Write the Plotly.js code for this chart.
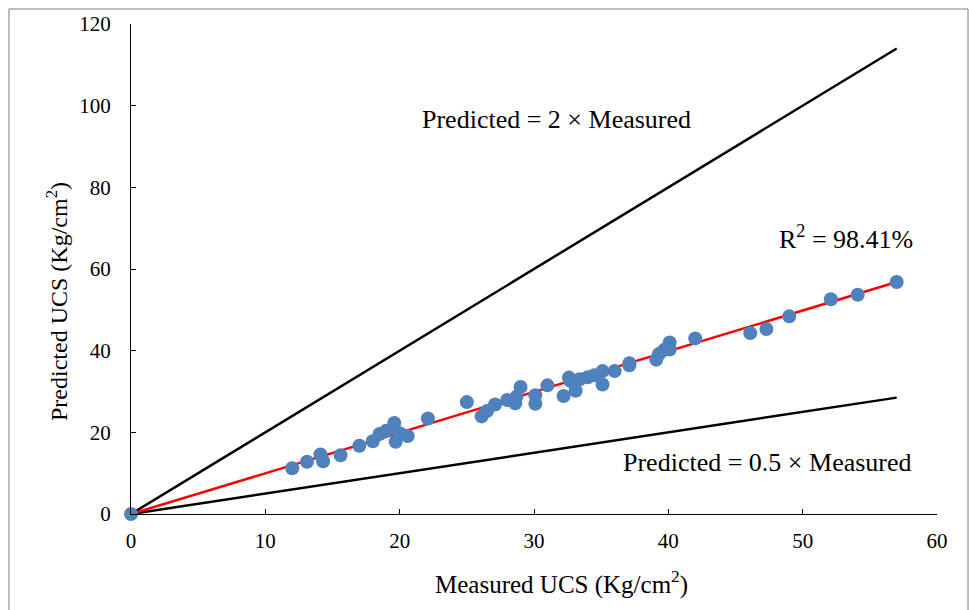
<!DOCTYPE html>
<html>
<head>
<meta charset="utf-8">
<script src="https://cdn.plot.ly/plotly-3.0.1.min.js"></script>
<style>html,body{margin:0;padding:0;background:#fff;}#chart{width:969px;height:610px;}</style>
</head>
<body>
<div id="chart"></div>
<script>
const measured = [0, 12, 13.1, 14.1, 14.3, 15.6, 17, 18, 18.5, 19, 19.6, 19.7, 20, 20.6, 22.1, 25, 26.1, 26.5, 27.1, 28, 28.6, 28.7, 29, 30.1, 30.1, 31, 32.2, 32.6, 32.7, 33.1, 33.4, 34, 34.5, 35.1, 35.1, 36, 37.1, 37.1, 39.1, 39.3, 39.7, 40.1, 40.1, 42, 46.1, 47.3, 49, 52.1, 54.1, 57];
const predicted = [0, 11.2, 12.8, 14.6, 12.9, 14.4, 16.7, 17.8, 19.6, 20.4, 22.3, 17.7, 19.8, 19.1, 23.4, 27.4, 23.9, 25.2, 26.8, 27.9, 27.1, 28.7, 31.1, 29.1, 27, 31.5, 28.9, 33.4, 32.6, 30.2, 33, 33.5, 34, 35, 31.7, 35, 36.4, 36.9, 37.8, 39.2, 40.2, 42, 40.3, 43, 44.3, 45.3, 48.4, 52.6, 53.7, 56.8];
const lineX = [0, 57];
const upperY = [0, 114];
const lowerY = [0, 28.5];
const fitY = [0, 56.8];
const xTicks = [0, 10, 20, 30, 40, 50, 60];
const yTicks = [0, 20, 40, 60, 80, 100, 120];

const font = 'Liberation Serif';
const traces = [
  {x: lineX, y: upperY, mode: 'lines', line: {color: '#000000', width: 2.5}, hoverinfo: 'skip', cliponaxis: false},
  {x: lineX, y: lowerY, mode: 'lines', line: {color: '#000000', width: 2.5}, hoverinfo: 'skip', cliponaxis: false},
  {x: lineX, y: fitY, mode: 'lines', line: {color: '#ff0000', width: 2.5}, hoverinfo: 'skip', cliponaxis: false},
  {x: measured, y: predicted, mode: 'markers', marker: {color: '#4f81bd', size: 14}, cliponaxis: false}
];
const layout = {
  width: 969, height: 610,
  margin: {l: 131, r: 32, t: 24, b: 96},
  paper_bgcolor: '#ffffff', plot_bgcolor: '#ffffff',
  showlegend: false,
  font: {family: font, size: 20, color: '#000000'},
  xaxis: {
    range: [0, 60], tickvals: xTicks, ticktext: xTicks.map(String),
    showgrid: false, zeroline: false, showline: true, linecolor: '#000000', linewidth: 1,
    ticks: 'inside', ticklen: 5, tickcolor: '#000000', ticklabelstandoff: 8,
    tickfont: {family: font, size: 21, color: '#000000'}
  },
  yaxis: {
    range: [0, 120], tickvals: yTicks, ticktext: yTicks.map(String),
    showgrid: false, zeroline: false, showline: true, linecolor: '#000000', linewidth: 1,
    ticks: 'inside', ticklen: 5, tickcolor: '#000000', ticklabelstandoff: 15,
    tickfont: {family: font, size: 21, color: '#000000'}
  },
  annotations: [
    {x: 0.5347, y: -0.1388, xref: 'paper', yref: 'paper', xanchor: 'center', yanchor: 'middle', text: 'Measured UCS (Kg/cm<sup>2</sup>)', showarrow: false, font: {family: font, size: 25, color: '#000000'}},
    {x: -0.0918, y: 0.4327, xref: 'paper', yref: 'paper', xanchor: 'center', yanchor: 'middle', textangle: -90, text: 'Predicted UCS (Kg/cm<sup>2</sup>)', showarrow: false, font: {family: font, size: 24, color: '#000000'}},
    {x: 31.7, y: 96.7, xref: 'x', yref: 'y', text: 'Predicted = 2 × Measured', showarrow: false, font: {family: font, size: 26, color: '#000000'}},
    {x: 53.2, y: 67.8, xref: 'x', yref: 'y', text: 'R<sup>2</sup> = 98.41%', showarrow: false, font: {family: font, size: 26, color: '#000000'}},
    {x: 47.4, y: 12.5, xref: 'x', yref: 'y', text: 'Predicted = 0.5 × Measured', showarrow: false, font: {family: font, size: 26, color: '#000000'}}
  ],
  shapes: [
    {type: 'rect', xref: 'paper', yref: 'paper', x0: -0.1514, x1: 1.0385, y0: -0.25, y1: 1.0306, line: {color: '#7f7f7f', width: 1}, fillcolor: 'rgba(0,0,0,0)', layer: 'below'}
  ]
};
Plotly.newPlot('chart', traces, layout, {displayModeBar: false, staticPlot: true});
</script>
</body>
</html>
